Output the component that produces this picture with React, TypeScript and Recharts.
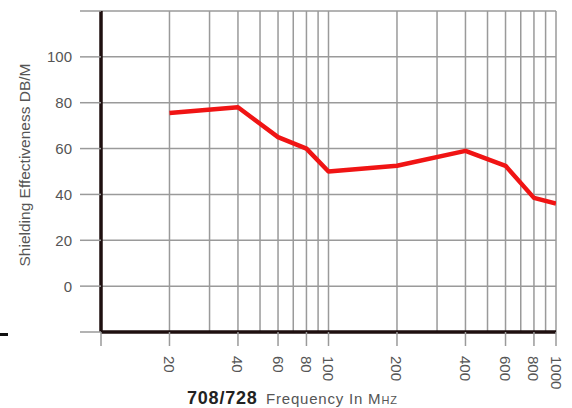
import React from 'react';
import { LineChart, Line, XAxis, YAxis, ReferenceLine } from 'recharts';

const frequencies = [20, 40, 60, 80, 100, 200, 400, 600, 800, 1000];
const shielding = [75.5, 78, 65, 60, 50, 52.5, 59, 52.5, 38.5, 36];
const xTicks = [10, 20, 40, 60, 80, 100, 200, 400, 600, 800, 1000];
const xGrid = [20, 30, 40, 50, 60, 70, 80, 90, 100, 200, 300, 400, 500, 600, 700, 800, 900, 1000];
const yTicks = [-20, 0, 20, 40, 60, 80, 100, 120];
const yLabeled = [0, 20, 40, 60, 80, 100];
const yAxisTitle = 'Shielding Effectiveness DB/M';
const modelTitle = '708/728';
const xAxisTitle = 'Frequency In M';
const xAxisUnitTail = 'HZ';

const data = frequencies.map((f, i) => ({ freq: f, se: shielding[i] }));

const FONT = '"Liberation Sans", Arial, Helvetica, sans-serif';
const GRID = '#9a9a9a';
const AXIS = '#1e0f0f';

const XTick = (props: any) => {
  const { x, y, payload } = props;
  if (payload.value === 10) return null;
  return (
    <text
      x={0}
      y={0}
      transform={`translate(${x},${y}) rotate(90)`}
      textAnchor="start"
      dominantBaseline="central"
      fontSize={15}
      fill="#555"
      fontFamily={FONT}
    >
      {payload.value}
    </text>
  );
};

const YTick = (props: any) => {
  const { x, y, payload } = props;
  if (!yLabeled.includes(payload.value)) return null;
  return (
    <text x={x} y={y} textAnchor="end" dominantBaseline="central" fontSize={15} fill="#555" fontFamily={FONT}>
      {payload.value}
    </text>
  );
};

const YTitle = () => (
  <g>
    <text
      transform="translate(24,165) rotate(-90)"
      textAnchor="middle"
      dominantBaseline="central"
      fontSize={15.5}
      fill="#555"
      fontFamily={FONT}
    >
      {yAxisTitle}
    </text>
    <rect x={0} y={333} width={8} height={3} fill="#111" />
  </g>
);

const XTitle = () => (
  <g>
    <text x={187} y={404} fontSize={18} fontWeight="bold" letterSpacing={0.8} fill="#222" fontFamily={FONT}>
      {modelTitle}
    </text>
    <text x={266} y={404} fontSize={15} letterSpacing={0.8} fill="#555" fontFamily={FONT}>
      {xAxisTitle}
      <tspan fontSize={11}>{xAxisUnitTail}</tspan>
    </text>
  </g>
);

export default function App() {
  return (
    <div style={{ position: 'absolute', left: 0, top: 0 }}>
      <LineChart width={572} height={408} data={data} margin={{ top: 11, right: 16, bottom: 0, left: 0 }}>
        <XAxis
          dataKey="freq"
          type="number"
          scale="log"
          domain={[10, 1000]}
          ticks={xTicks}
          interval={0}
          height={76}
          tickSize={14}
          tickMargin={10}
          tick={<XTick />}
          tickLine={{ stroke: GRID, strokeWidth: 1.5 }}
          axisLine={{ stroke: AXIS, strokeWidth: 3.5 }}
          allowDataOverflow
          label={<XTitle />}
        />
        <YAxis
          type="number"
          domain={[-20, 120]}
          ticks={yTicks}
          interval={0}
          width={101}
          tickSize={21}
          tickMargin={8}
          tick={<YTick />}
          tickLine={{ stroke: GRID, strokeWidth: 1.5 }}
          axisLine={{ stroke: AXIS, strokeWidth: 3.5 }}
          allowDataOverflow
          label={<YTitle />}
        />
        {yTicks.map((v) => (
          <ReferenceLine key={'h' + v} y={v} stroke={GRID} strokeWidth={1.5} />
        ))}
        {xGrid.map((v) => (
          <ReferenceLine key={'v' + v} x={v} stroke={GRID} strokeWidth={1.5} />
        ))}
        <Line
          type="linear"
          dataKey="se"
          stroke="#f01414"
          strokeWidth={4.5}
          dot={false}
          isAnimationActive={false}
          strokeLinejoin="round"
        />
      </LineChart>
    </div>
  );
}
